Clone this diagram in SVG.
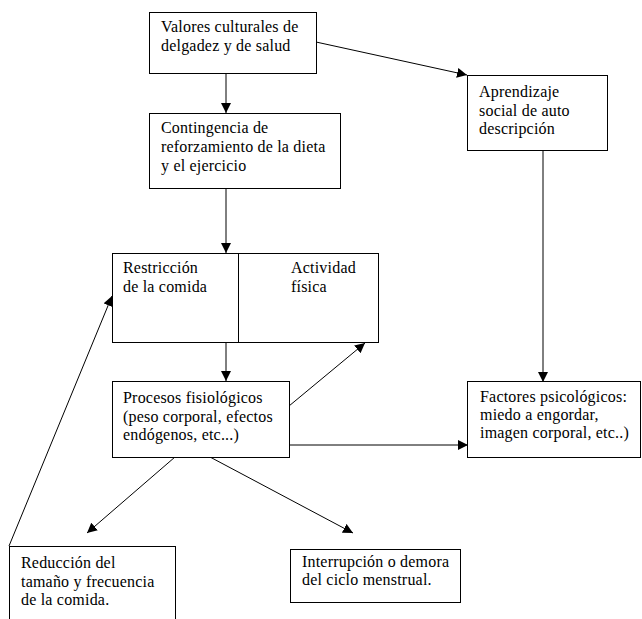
<svg xmlns="http://www.w3.org/2000/svg" width="642" height="619" viewBox="0 0 642 619">
<style>
.b{fill:#fff;stroke:#000;stroke-width:1}
text{font-family:"Liberation Serif","Times New Roman",serif;font-size:16px;letter-spacing:0.2px;fill:#000}
.c line{stroke:#000;stroke-width:1;marker-end:url(#ah)}
</style>
<defs>
<marker id="ah" viewBox="0 0 10 10" refX="10" refY="5" markerWidth="10" markerHeight="10" markerUnits="userSpaceOnUse" orient="auto">
<path d="M0,0 L10,5 L0,10 z" fill="#000"/>
</marker>
</defs>
<rect x="0" y="0" width="642" height="619" fill="#fff"/>
<g class="c" id="connectors">
<line x1="226" y1="73" x2="226" y2="113"/>
<line x1="316" y1="42" x2="467" y2="75"/>
<line x1="226" y1="189" x2="226" y2="253"/>
<line x1="226" y1="342" x2="226" y2="381"/>
<line x1="289" y1="406" x2="365" y2="343"/>
<line x1="289" y1="445" x2="468" y2="445"/>
<line x1="175" y1="457" x2="87" y2="533"/>
<line x1="210" y1="457" x2="353" y2="533"/>
<line x1="9" y1="546" x2="112" y2="296"/>
<line x1="543" y1="151" x2="543" y2="382"/>
</g>
<g id="n1"><rect class="b" x="149.5" y="12.5" width="167" height="61"/>
<text x="161" y="32">Valores culturales de</text><text x="161" y="51">delgadez y de salud</text></g>
<g id="n2"><rect class="b" x="149.5" y="113.5" width="191" height="75"/>
<text x="161" y="133">Contingencia de</text><text x="161" y="152">reforzamiento de la dieta</text><text x="161" y="171">y el ejercicio</text></g>
<g id="n3"><rect class="b" x="112.5" y="253.5" width="266" height="89"/>
<line x1="238.5" y1="253.5" x2="238.5" y2="342.5" stroke="#000"/>
<text x="123" y="273">Restricción</text><text x="123" y="292">de la comida</text>
<text x="291" y="273">Actividad</text><text x="291" y="292">física</text></g>
<g id="n4"><rect class="b" x="467.5" y="75.5" width="140" height="75"/>
<text x="479" y="97">Aprendizaje</text><text x="479" y="116">social de auto</text><text x="479" y="134">descripción</text></g>
<g id="n5"><rect class="b" x="112.5" y="381.5" width="177" height="76"/>
<text x="123" y="403">Procesos fisiológicos</text><text x="123" y="422">(peso corporal, efectos</text><text x="123" y="440">endógenos, etc...)</text></g>
<g id="n6"><rect class="b" x="467.5" y="381.5" width="173" height="76"/>
<text x="480" y="402">Factores psicológicos:</text><text x="480" y="420">miedo a engordar,</text><text x="480" y="438">imagen corporal, etc..)</text></g>
<g id="n7"><rect class="b" x="9.5" y="546.5" width="166" height="80"/>
<text x="21" y="568">Reducción del</text><text x="21" y="587">tamaño y frecuencia</text><text x="21" y="605">de la comida.</text></g>
<g id="n8"><rect class="b" x="290.5" y="549.5" width="170" height="53"/>
<text x="302" y="567">Interrupción o demora</text><text x="302" y="585">del ciclo menstrual.</text></g>
</svg>
